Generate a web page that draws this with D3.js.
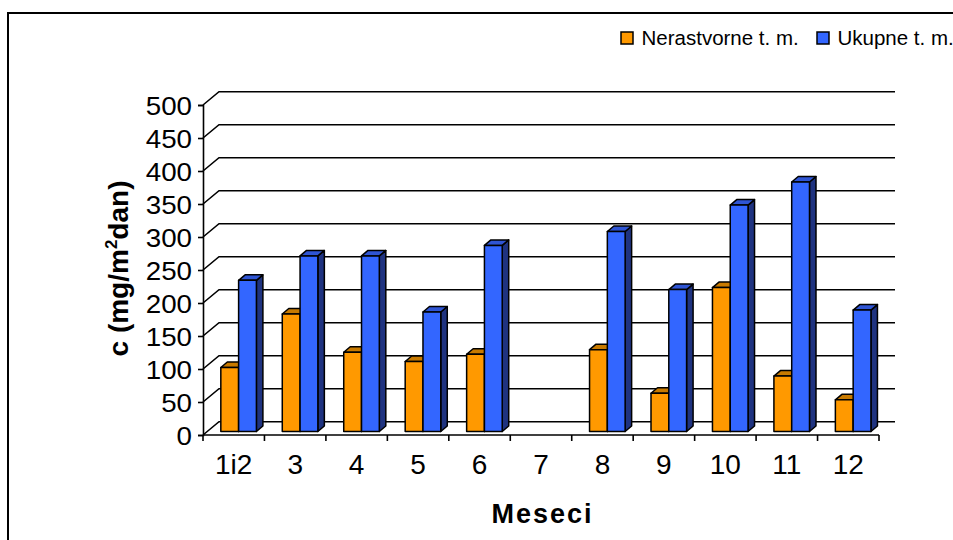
<!DOCTYPE html>
<html>
<head>
<meta charset="utf-8">
<script src="https://cdn.jsdelivr.net/npm/d3@7/dist/d3.min.js"></script>
<style>
  html, body { margin: 0; padding: 0; background: #fff; }
  svg { display: block; font-family: "Liberation Sans", Arial, sans-serif; }
</style>
</head>
<body>
<svg id="chart" width="953" height="540"></svg>
<script>
// Monthly deposition (mg/m²dan): insoluble vs. total solids
const categories = ["1i2", "3", "4", "5", "6", "7", "8", "9", "10", "11", "12"];
const nerastvorne = [97, 178, 120, 106, 117, null, 124, 58, 218, 84, 48];
const ukupne = [229, 266, 266, 181, 282, null, 303, 215, 343, 378, 184];
const yTicks = [0, 50, 100, 150, 200, 250, 300, 350, 400, 450, 500];
const seriesNames = ["Nerastvorne t. m.", "Ukupne t. m."];

const series = [
  { name: seriesNames[0], values: nerastvorne, front: "#FF9900", top: "#C87A00", side: "#8A5500" },
  { name: seriesNames[1], values: ukupne, front: "#3366FF", top: "#2F55D4", side: "#1F3380" }
];

const svg = d3.select("#chart");

// Outer chart frame
svg.append("rect")
  .attr("x", 8).attr("y", 13)
  .attr("width", 960).attr("height", 560)
  .attr("fill", "none").attr("stroke", "#000").attr("stroke-width", 2);

// 3D projection: depth of the back wall and of each column
const wallDx = 16, wallDy = -13.3;
const barPosDy = -3.5;
const barDx = 6.5, barDy = -5.5;

const x = d3.scaleBand().domain(categories).range([203, 879]).padding(0);
const inner = d3.scaleBand().domain(seriesNames)
  .range([x.bandwidth() * 0.29, x.bandwidth() * 0.869]).padding(0);
const y = d3.scaleLinear().domain([0, 500]).range([435, 105]);

// Gridlines: short diagonal on the side wall + horizontal on the back wall
const grid = svg.append("g").attr("stroke", "#000").attr("stroke-width", 1.6).attr("fill", "none");
yTicks.forEach(v => {
  const x0 = x.range()[0], y0 = y(v);
  grid.append("path")
    .attr("d", `M${x0},${y0}L${x0 + wallDx},${y0 + wallDy}L${x.range()[1] + wallDx},${y0 + wallDy}`);
});

// Y axis
const yAxis = d3.axisLeft(y).tickValues(yTicks).tickSize(5).tickFormat("");
const yg = svg.append("g").attr("transform", `translate(${x.range()[0]},0)`).call(yAxis);
yg.select(".domain").attr("stroke", "#000").attr("stroke-width", 1.6);
yg.selectAll(".tick line").attr("stroke", "#000").attr("stroke-width", 1.6);

svg.append("g").selectAll("text").data(yTicks).join("text")
  .attr("transform", d => `translate(192,${y(d) + 9.8}) scale(1.11,1)`)
  .attr("text-anchor", "end")
  .attr("font-size", 25)
  .attr("fill", "#000")
  .text(d => d);

// X axis with ticks at category boundaries
const xg = svg.append("g");
xg.append("line")
  .attr("x1", x.range()[0]).attr("x2", x.range()[1])
  .attr("y1", y(0)).attr("y2", y(0))
  .attr("stroke", "#000").attr("stroke-width", 1.6);
const bounds = categories.map(c => x(c)).concat([x.range()[1]]);
xg.selectAll("line.tk").data(bounds).join("line")
  .attr("class", "tk")
  .attr("x1", d => d).attr("x2", d => d)
  .attr("y1", y(0)).attr("y2", y(0) + 6)
  .attr("stroke", "#000").attr("stroke-width", 1.6);
xg.selectAll("text").data(categories).join("text")
  .attr("x", d => x(d) + x.bandwidth() / 2)
  .attr("y", 474)
  .attr("text-anchor", "middle")
  .attr("font-size", 28)
  .attr("fill", "#000")
  .text(d => d);

// Columns: front face, top face, right side face
const bars = svg.append("g").attr("stroke", "#000").attr("stroke-width", 1.5).attr("stroke-linejoin", "round");
categories.forEach((c, i) => {
  series.forEach(s => {
    const v = s.values[i];
    if (v == null) return;
    const fx = x(c) + inner(s.name);
    const w = inner.bandwidth();
    const base = y(0) + barPosDy;
    const top = y(v) + barPosDy;
    const g = bars.append("g");
    g.append("path")
      .attr("fill", s.side)
      .attr("d", `M${fx + w},${top}L${fx + w + barDx},${top + barDy}L${fx + w + barDx},${base + barDy}L${fx + w},${base}Z`);
    g.append("path")
      .attr("fill", s.top)
      .attr("d", `M${fx},${top}L${fx + barDx},${top + barDy}L${fx + w + barDx},${top + barDy}L${fx + w},${top}Z`);
    g.append("rect")
      .attr("fill", s.front)
      .attr("x", fx).attr("y", top)
      .attr("width", w).attr("height", base - top);
  });
});

// Axis titles
svg.append("text")
  .attr("transform", "translate(128,268.5) rotate(-90)")
  .attr("text-anchor", "middle")
  .attr("font-size", 28)
  .attr("font-weight", "bold")
  .attr("fill", "#000")
  .call(t => {
    t.append("tspan").text("c (mg/m");
    t.append("tspan").attr("font-size", 17).attr("dy", -11).text("2");
    t.append("tspan").attr("dy", 11).text("dan)");
  });

svg.append("text")
  .attr("x", 491.5).attr("y", 523)
  .attr("font-size", 27)
  .attr("font-weight", "bold")
  .attr("letter-spacing", 2)
  .attr("fill", "#000")
  .text("Meseci");

// Legend
const legendItems = [
  { name: seriesNames[0], color: series[0].front, sx: 621, tx: 641.5 },
  { name: seriesNames[1], color: series[1].front, sx: 817, tx: 837.5 }
];
const lg = svg.append("g");
legendItems.forEach(d => {
  lg.append("rect")
    .attr("x", d.sx).attr("y", 32)
    .attr("width", 12).attr("height", 12)
    .attr("fill", d.color).attr("stroke", "#000").attr("stroke-width", 1.5);
  lg.append("text")
    .attr("x", d.tx).attr("y", 45)
    .attr("font-size", 20.5)
    .attr("fill", "#000")
    .text(d.name);
});
</script>
</body>
</html>
